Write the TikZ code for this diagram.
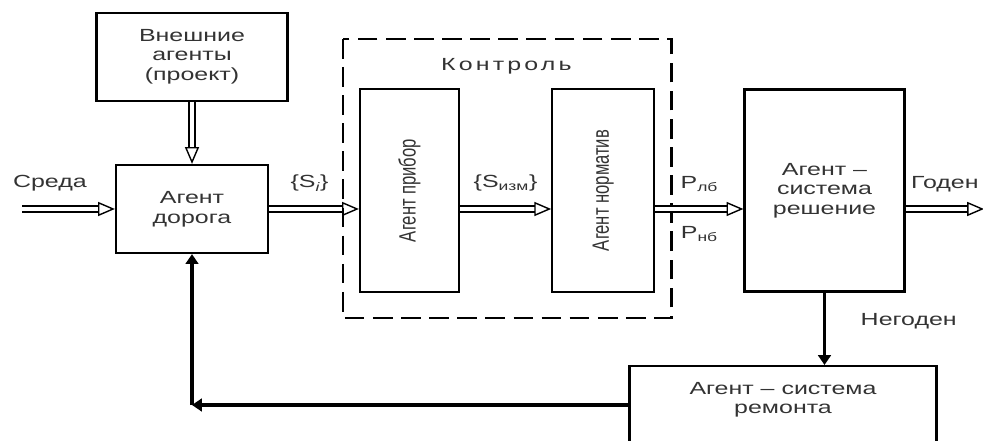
\documentclass[tikz,border=0pt]{standalone}
\usepackage{fontspec}
\setmainfont{Liberation Sans}[FakeStretch=1.42]
\newfontfamily\tallfont{Liberation Sans}[FakeStretch=0.704]
\usetikzlibrary{arrows.meta,positioning,calc}

\begin{document}
\begin{tikzpicture}[
    node distance=1.55cm and 2.2cm,
    box/.style={draw=black,line width=1.6pt,align=center,text=black!80,
      font=\fontsize{12.5}{14}\selectfont,inner sep=0pt},
    dbl/.style={double,double distance=3pt,line width=1pt,
      -{Triangle[open,length=12pt,width=10pt]}},
    arr/.style={-{Triangle[length=7pt,width=9pt]},line width=2.2pt},
    lbl/.style={text=black!80,font=\fontsize{12.5}{14}\selectfont},
    frame/.style={draw=black,line width=1.6pt,dash pattern=on 14pt off 6pt}
  ]
    \clip (0,0) rectangle (24.575,11);
    \node[box,minimum width=3.8cm,minimum height=2.2cm] (road) at (4.8,5.775) {Агент\\дорога};
    \node[box,minimum width=4.775cm,minimum height=2.2cm,above=of road] (ext) {Внешние\\агенты\\(проект)};
    \node[box,minimum width=2.475cm,minimum height=5.075cm] (pribor) at (10.2375,6.2375)
      {\rotatebox{90}{\tallfont\fontsize{16.8}{18}\selectfont Агент прибор}};
    \node[box,minimum width=2.55cm,minimum height=5.075cm,right=2.275cm of pribor] (norm)
      {\rotatebox{90}{\tallfont\fontsize{16.8}{18}\selectfont Агент норматив}};
    \node[box,minimum width=4cm,minimum height=5.05cm,right=of norm] (resh) {Агент --\\система\\решение};
    \node[box,minimum width=7.675cm,anchor=north,inner ysep=0.4cm,text depth=2cm] (repair) at (19.575,1.875)
      {Агент -- система\\ремонта};
    % пунктирная рамка контроля
    \draw[frame] ($(pribor.north west)+(-0.4,1.225)$) rectangle ($(norm.south east)+(0.4,-0.625)$);
    \node[lbl,yshift=0.55cm] (kontrol) at ($(pribor.north)!0.5!(norm.north)$)
      {\addfontfeature{LetterSpace=18}Контроль};
    \coordinate (in) at (0.55,5.775);
    \coordinate (out) at (24.6,5.775);
    \coordinate (back) at (4.8,0.875);
    \draw[dbl] (in) -- node[lbl,above=0.3cm,pos=0.3]{Среда} (road.west);
    \draw[dbl] (ext) -- (road);
    \draw[dbl] (road.east) -- node[lbl,above=0.3cm,pos=0.45]{\{S\textsubscript{\itshape i}\}} (road.east -| pribor.west);
    \draw[dbl] (road.east -| pribor.east) -- node[lbl,above=0.3cm]{\{S\textsubscript{изм}\}} (road.east -| norm.west);
    \draw[dbl] (road.east -| norm.east) -- node[lbl,above=0.3cm]{P\textsubscript{лб}}
      node[lbl,below=0.3cm]{P\textsubscript{нб}} (road.east -| resh.west);
    \draw[dbl] (road.east -| resh.east) -- node[lbl,above=0.3cm,pos=0.5]{Годен} (out);
    \draw[arr] (resh.south) -- node[lbl,right=0.75cm,pos=0.4]{Негоден} (resh.south |- repair.north);
    \draw[arr] (back -| repair.west) -- (back);
    \draw[arr] (back) -- (road.south);
  \end{tikzpicture}
\end{document}
